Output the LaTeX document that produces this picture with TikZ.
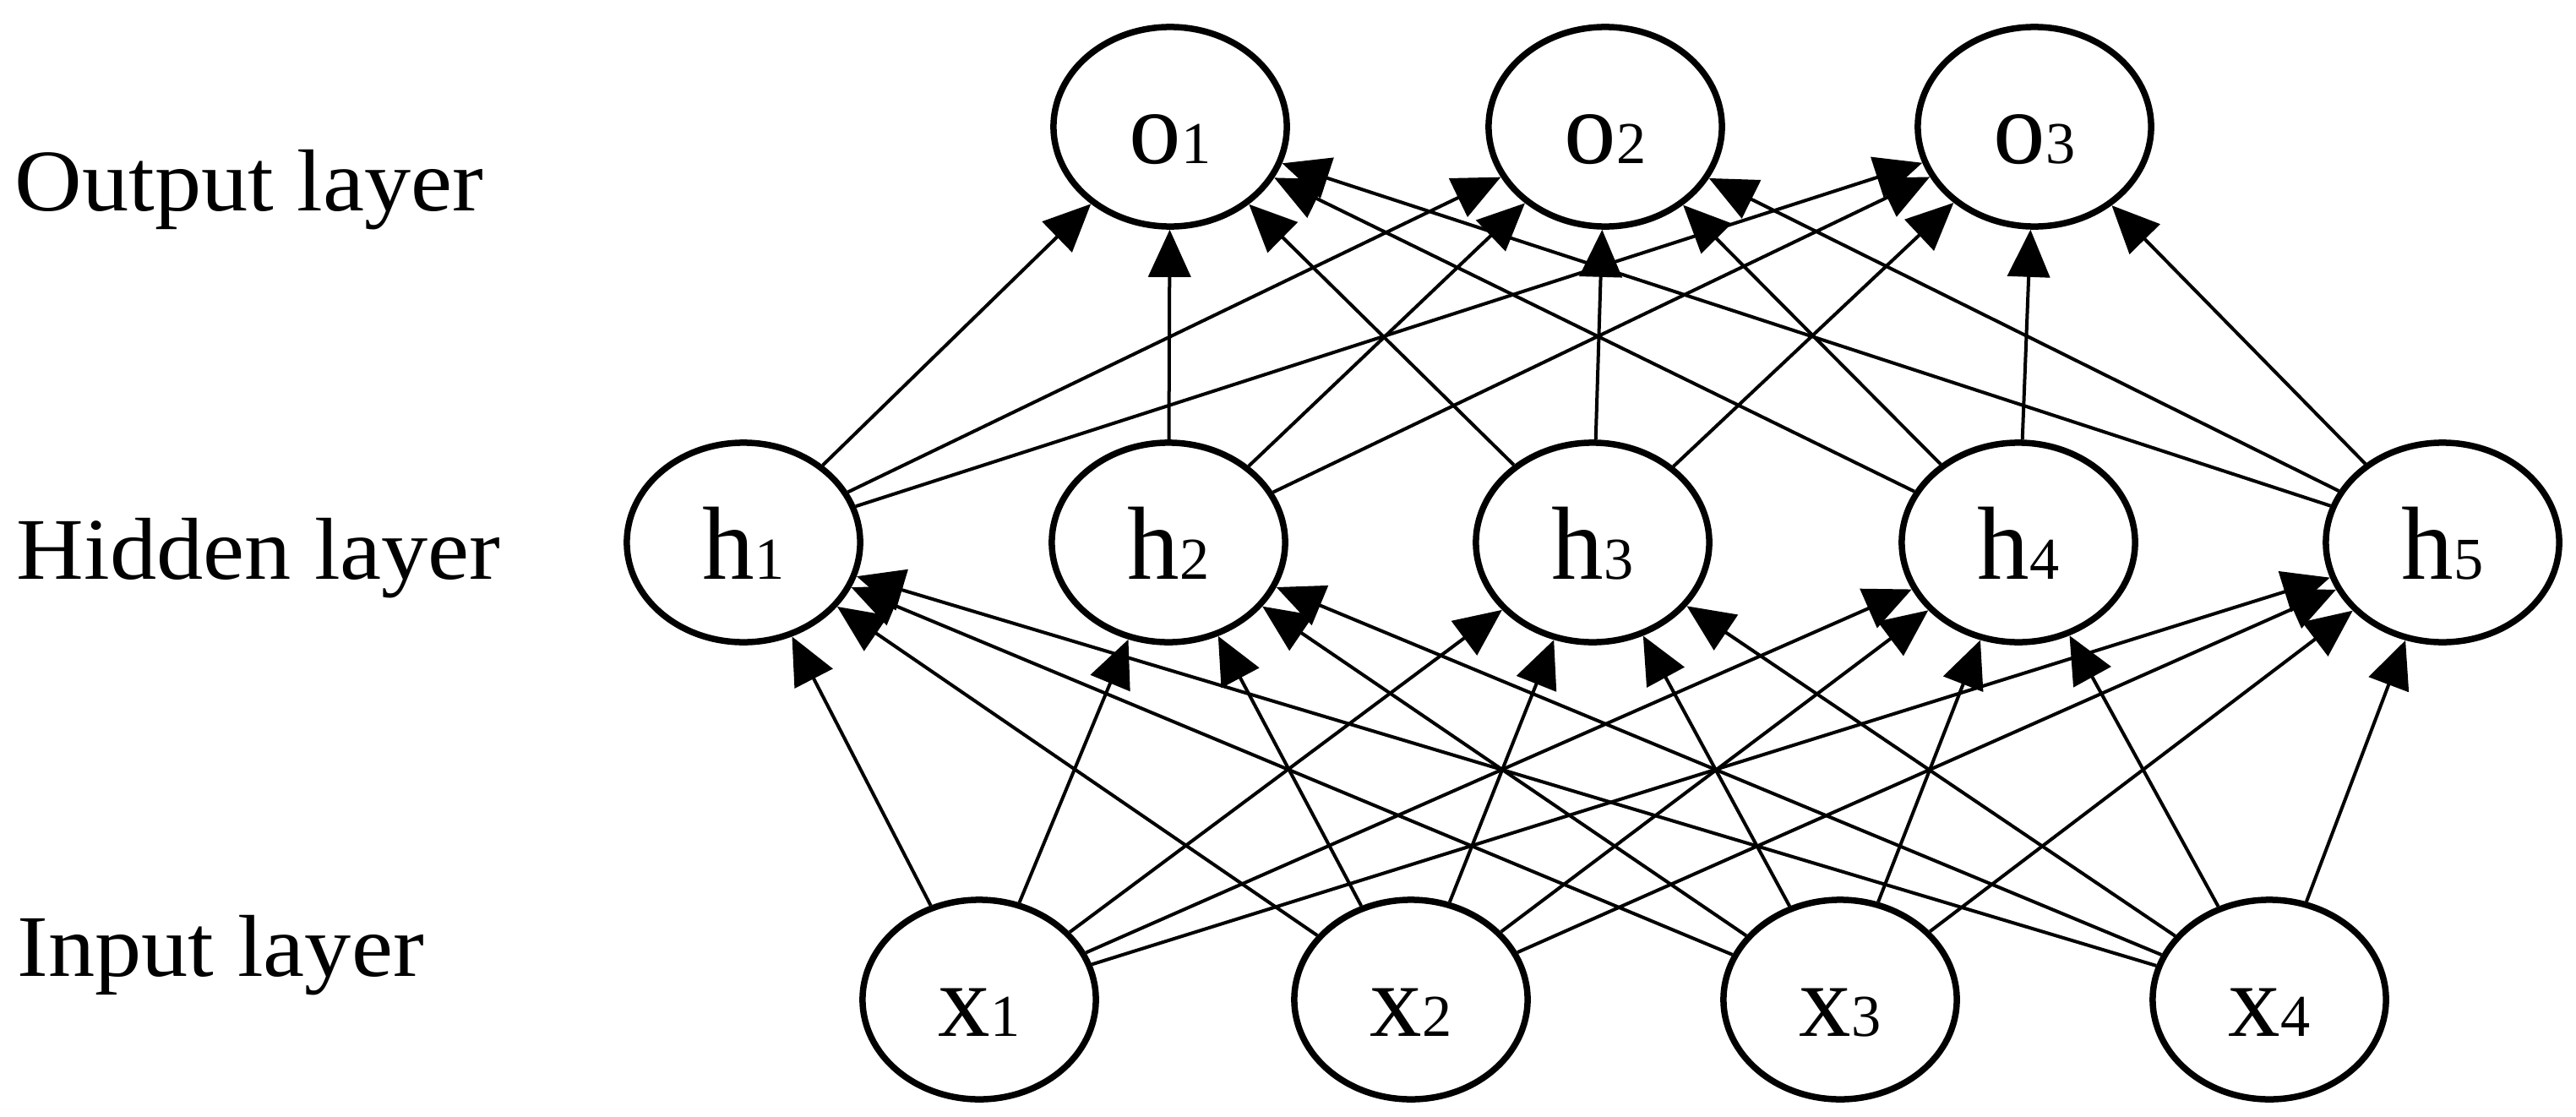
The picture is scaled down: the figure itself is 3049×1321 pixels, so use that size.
\documentclass[tikz,border=0pt]{standalone}
\usepackage{fontspec}
\setmainfont{Liberation Serif}
\usepackage{graphicx}
\usetikzlibrary{shapes.geometric,arrows.meta}
\newcommand\nlab[2]{{\fontsize{35pt}{36pt}\selectfont #1}{\fontsize{20pt}{21pt}\selectfont #2}}
\newcommand\llab[1]{\scalebox{1.06}[1]{#1}}
\begin{document}
\begin{tikzpicture}[x=0.01cm,y=-0.01cm,
  neuron/.style={draw, ellipse, line width=0.075cm, minimum width=2.76cm,
    minimum height=2.36cm, inner sep=0pt, fill=white, text height=0.86cm, text depth=0pt},
  conn/.style={line width=0.04cm, -{Triangle[length=0.56cm,width=0.5cm]}},
  layerlab/.style={anchor=base west, inner sep=0pt, font=\fontsize{29.6pt}{30pt}\selectfont}]
\useasboundingbox (0,0) rectangle (3049,1321);
% layer labels
\node[layerlab] (lo) at (17,249) {\llab{Output layer}};
\node[layerlab] (lh) at (19,685) {\llab{Hidden layer}};
\node[layerlab] (li) at (20,1155) {\llab{Input layer}};
% output layer
\node[neuron] (o1) at (1385,150) {\nlab{o}{1}};
\node[neuron] (o2) at (1900,150) {\nlab{o}{2}};
\node[neuron] (o3) at (2408,150) {\nlab{o}{3}};
% hidden layer
\node[neuron] (h1) at (880,642) {\nlab{h}{1}};
\node[neuron] (h2) at (1383,642) {\nlab{h}{2}};
\node[neuron] (h3) at (1885,642) {\nlab{h}{3}};
\node[neuron] (h4) at (2389,642) {\nlab{h}{4}};
\node[neuron] (h5) at (2891,642) {\nlab{h}{5}};
% input layer
\node[neuron] (x1) at (1159,1183) {\nlab{x}{1}};
\node[neuron] (x2) at (1670,1183) {\nlab{x}{2}};
\node[neuron] (x3) at (2178,1183) {\nlab{x}{3}};
\node[neuron] (x4) at (2686,1183) {\nlab{x}{4}};
% connections
\foreach \i in {1,...,4}{\foreach \j in {1,...,5}{\draw[conn] (x\i) -- (h\j);}}
\foreach \j in {1,...,5}{\foreach \k in {1,2,3}{\draw[conn] (h\j) -- (o\k);}}
\end{tikzpicture}
\end{document}
